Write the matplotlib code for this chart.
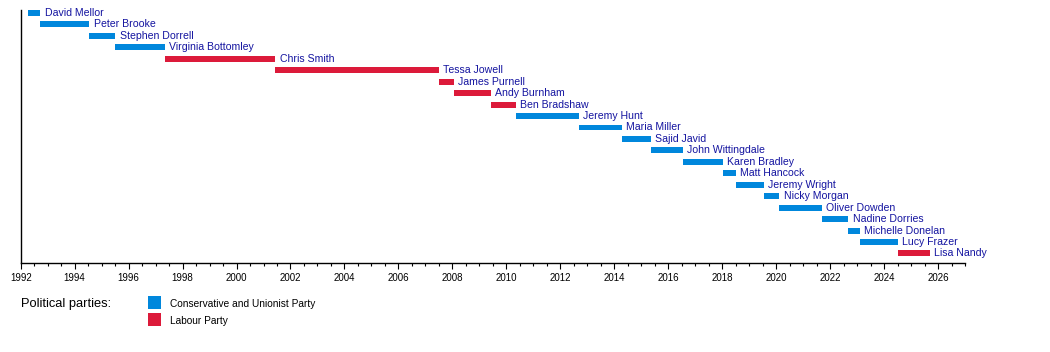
import matplotlib
matplotlib.use("Agg")
import matplotlib.pyplot as plt
from matplotlib.patches import Rectangle
from matplotlib.ticker import MultipleLocator

plt.rcParams['font.family'] = ['Liberation Sans', 'DejaVu Sans']

names = ["David Mellor", "Peter Brooke", "Stephen Dorrell", "Virginia Bottomley",
         "Chris Smith", "Tessa Jowell", "James Purnell", "Andy Burnham", "Ben Bradshaw",
         "Jeremy Hunt", "Maria Miller", "Sajid Javid", "John Wittingdale", "Karen Bradley",
         "Matt Hancock", "Jeremy Wright", "Nicky Morgan", "Oliver Dowden", "Nadine Dorries",
         "Michelle Donelan", "Lucy Frazer", "Lisa Nandy"]
starts = [1992.27, 1992.73, 1994.55, 1995.51, 1997.33, 2001.44, 2007.49, 2008.07, 2009.43,
          2010.36, 2012.68, 2014.27, 2015.36, 2016.54, 2018.02, 2018.52, 2019.56, 2020.12,
          2021.71, 2022.68, 2023.10, 2024.51]
ends = [1992.73, 1994.55, 1995.51, 1997.33, 2001.44, 2007.49, 2008.07, 2009.43, 2010.36,
        2012.68, 2014.27, 2015.36, 2016.54, 2018.02, 2018.52, 2019.56, 2020.12, 2021.71,
        2022.68, 2023.10, 2024.51, 2025.69]
parties = ["Con", "Con", "Con", "Con", "Lab", "Lab", "Lab", "Lab", "Lab",
           "Con", "Con", "Con", "Con", "Con", "Con", "Con", "Con", "Con", "Con",
           "Con", "Con", "Lab"]
party_colors = {"Con": "#0087DC", "Lab": "#DC1A3A"}
party_labels = {"Con": "Conservative and Unionist Party", "Lab": "Labour Party"}
legend_order = ["Con", "Lab"]

W, H = 1050, 352
fig = plt.figure(figsize=(W / 100, H / 100), dpi=100)
left, right, top, bottom = 20.7, 965, 10, 263.3
ax = fig.add_axes([left / W, 1 - bottom / H, (right - left) / W, (bottom - top) / H])

text_color = "#1414a0"
for i, (n, s, e, p) in enumerate(zip(names, starts, ends, parties)):
    ax.barh(i, e - s, left=s, height=0.52, color=party_colors[p], linewidth=0)
    ax.annotate(n, xy=(e, i), xytext=(3, 0), textcoords="offset points",
                va="center", ha="left", fontsize=7.6, color=text_color)

ax.set_xlim(1992, 2027)
ax.set_ylim(21.86, -0.26)
ax.xaxis.set_major_locator(MultipleLocator(2))
ax.xaxis.set_minor_locator(MultipleLocator(0.5))
ax.tick_params(axis="x", which="major", length=4, width=0.8, labelsize=7, pad=3, direction="out")
ax.tick_params(axis="x", which="minor", length=2, width=0.8, direction="out")
ax.set_yticks([])
for sp in ["top", "right"]:
    ax.spines[sp].set_visible(False)
for sp in ["left", "bottom"]:
    ax.spines[sp].set_linewidth(1.0)
    ax.spines[sp].set_color("black")

# Legend
fig.text(20.7 / W, 1 - 304 / H, "Political parties:", fontsize=9.3, va="center", ha="left")
for k, p in enumerate(legend_order):
    y0 = 296 + k * 17
    fig.patches.append(Rectangle((148 / W, 1 - (y0 + 13) / H), 13 / W, 13 / H,
                                 transform=fig.transFigure, color=party_colors[p], linewidth=0))
    fig.text(170 / W, 1 - (y0 + 8) / H, party_labels[p], fontsize=7.3, va="center", ha="left")

fig.savefig("out.png", dpi=100)
